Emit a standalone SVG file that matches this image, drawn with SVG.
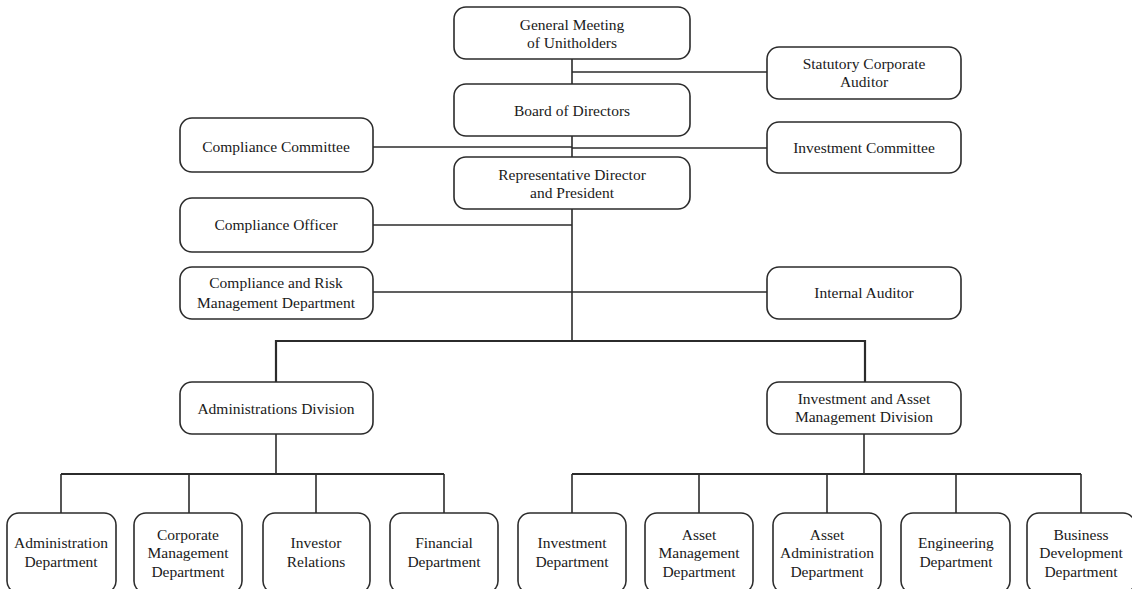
<svg xmlns="http://www.w3.org/2000/svg" width="1132" height="589" viewBox="0 0 1132 589">
<style>
.box{fill:#fff;stroke:#2b2b2b;stroke-width:1.6}
.t{font-family:"Liberation Serif","Times New Roman",serif;font-size:15.5px;fill:#1a1a1a;text-anchor:middle}
.ln{stroke:#2b2b2b;stroke-width:1.6;fill:none}
.lt{stroke:#2b2b2b;stroke-width:2.2;fill:none}
</style>
<rect width="1132" height="589" fill="#fff"/>
<g id="connectors">
<line class="ln" x1="572" y1="59" x2="572" y2="84"/>
<line class="ln" x1="572" y1="72" x2="767" y2="72"/>
<line class="ln" x1="572" y1="136" x2="572" y2="157"/>
<line class="ln" x1="373" y1="147" x2="572" y2="147"/>
<line class="ln" x1="572" y1="148" x2="767" y2="148"/>
<line class="ln" x1="572" y1="209" x2="572" y2="341"/>
<line class="ln" x1="373" y1="225" x2="572" y2="225"/>
<line class="ln" x1="373" y1="292" x2="767" y2="292"/>
<polyline class="lt" points="276,382 276,341 865,341 865,382"/>
<line class="ln" x1="276" y1="434" x2="276" y2="474"/>
<line class="lt" x1="61" y1="474" x2="444" y2="474"/>
<line class="ln" x1="61" y1="474" x2="61" y2="513"/>
<line class="ln" x1="189" y1="474" x2="189" y2="513"/>
<line class="ln" x1="316" y1="474" x2="316" y2="513"/>
<line class="ln" x1="444" y1="474" x2="444" y2="513"/>
<line class="ln" x1="864" y1="434" x2="864" y2="474"/>
<line class="lt" x1="572" y1="474" x2="1081" y2="474"/>
<line class="ln" x1="572" y1="474" x2="572" y2="513"/>
<line class="ln" x1="699" y1="474" x2="699" y2="513"/>
<line class="ln" x1="827" y1="474" x2="827" y2="513"/>
<line class="ln" x1="956" y1="474" x2="956" y2="513"/>
<line class="ln" x1="1081" y1="474" x2="1081" y2="513"/>
</g>
<g id="general-meeting"><rect class="box" x="454" y="7" width="236" height="52" rx="12"/><text class="t" x="572" y="30">General Meeting</text><text class="t" x="572" y="48">of Unitholders</text></g>
<g id="statutory-auditor"><rect class="box" x="767" y="47" width="194" height="52" rx="12"/><text class="t" x="864" y="69">Statutory Corporate</text><text class="t" x="864" y="87">Auditor</text></g>
<g id="board"><rect class="box" x="454" y="84" width="236" height="52" rx="12"/><text class="t" x="572" y="116">Board of Directors</text></g>
<g id="compliance-committee"><rect class="box" x="180" y="118" width="193" height="54" rx="12"/><text class="t" x="276" y="152">Compliance Committee</text></g>
<g id="investment-committee"><rect class="box" x="767" y="122" width="194" height="51" rx="12"/><text class="t" x="864" y="153">Investment Committee</text></g>
<g id="rep-director"><rect class="box" x="454" y="157" width="236" height="52" rx="12"/><text class="t" x="572" y="180">Representative Director</text><text class="t" x="572" y="198">and President</text></g>
<g id="compliance-officer"><rect class="box" x="180" y="198" width="193" height="54" rx="12"/><text class="t" x="276" y="230">Compliance Officer</text></g>
<g id="compliance-risk"><rect class="box" x="180" y="267" width="193" height="52" rx="12"/><text class="t" x="276" y="288">Compliance and Risk</text><text class="t" x="276" y="308">Management Department</text></g>
<g id="internal-auditor"><rect class="box" x="767" y="267" width="194" height="52" rx="12"/><text class="t" x="864" y="298">Internal Auditor</text></g>
<g id="admin-division"><rect class="box" x="180" y="382" width="193" height="52" rx="12"/><text class="t" x="276" y="414">Administrations Division</text></g>
<g id="iam-division"><rect class="box" x="767" y="382" width="194" height="52" rx="12"/><text class="t" x="864" y="404">Investment and Asset</text><text class="t" x="864" y="422">Management Division</text></g>
<g id="administration-dept"><rect class="box" x="7" y="513" width="109" height="80" rx="12"/><text class="t" x="61" y="548">Administration</text><text class="t" x="61" y="567">Department</text></g>
<g id="corporate-mgmt-dept"><rect class="box" x="134" y="513" width="108" height="80" rx="12"/><text class="t" x="188" y="540">Corporate</text><text class="t" x="188" y="558">Management</text><text class="t" x="188" y="577">Department</text></g>
<g id="investor-relations"><rect class="box" x="263" y="513" width="107" height="80" rx="12"/><text class="t" x="316" y="548">Investor</text><text class="t" x="316" y="567">Relations</text></g>
<g id="financial-dept"><rect class="box" x="390" y="513" width="108" height="80" rx="12"/><text class="t" x="444" y="548">Financial</text><text class="t" x="444" y="567">Department</text></g>
<g id="investment-dept"><rect class="box" x="518" y="513" width="108" height="80" rx="12"/><text class="t" x="572" y="548">Investment</text><text class="t" x="572" y="567">Department</text></g>
<g id="asset-mgmt-dept"><rect class="box" x="645" y="513" width="108" height="80" rx="12"/><text class="t" x="699" y="540">Asset</text><text class="t" x="699" y="558">Management</text><text class="t" x="699" y="577">Department</text></g>
<g id="asset-admin-dept"><rect class="box" x="773" y="513" width="108" height="80" rx="12"/><text class="t" x="827" y="540">Asset</text><text class="t" x="827" y="558">Administration</text><text class="t" x="827" y="577">Department</text></g>
<g id="engineering-dept"><rect class="box" x="901" y="513" width="109" height="80" rx="12"/><text class="t" x="956" y="548">Engineering</text><text class="t" x="956" y="567">Department</text></g>
<g id="business-dev-dept"><rect class="box" x="1027" y="513" width="108" height="80" rx="12"/><text class="t" x="1081" y="540">Business</text><text class="t" x="1081" y="558">Development</text><text class="t" x="1081" y="577">Department</text></g>
</svg>
